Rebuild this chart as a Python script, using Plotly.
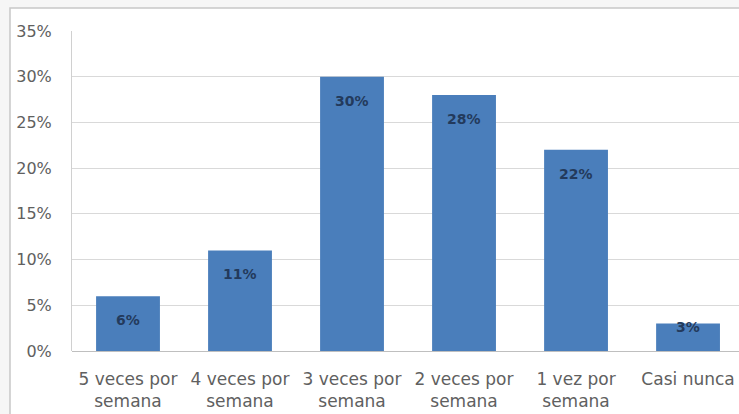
import plotly.graph_objects as go

categories = ["5 veces por<br>semana", "4 veces por<br>semana", "3 veces por<br>semana",
              "2 veces por<br>semana", "1 vez por<br>semana", "Casi nunca"]
values = [0.06, 0.11, 0.30, 0.28, 0.22, 0.03]
labels = ["6%", "11%", "30%", "28%", "22%", "3%"]
yticks = [0, 0.05, 0.10, 0.15, 0.20, 0.25, 0.30, 0.35]
yticklabels = ["0%", "5%", "10%", "15%", "20%", "25%", "30%", "35%"]

W, H = 739, 414
ml, mr, mt, mb = 72, 0, 31, 63
plot_h = H - mt - mb
ymax = 0.35
FONT = "DejaVu Sans"

fig = go.Figure()
fig.add_trace(go.Bar(
    x=list(range(len(categories))), y=values,
    marker=dict(color="#4a7ebb", line=dict(width=0)),
    width=0.57, hoverinfo="skip",
))

annotations = []
for i, (v, t) in enumerate(zip(values, labels)):
    bar_px = v / ymax * plot_h
    shift = -24 if bar_px > 40 else -3
    annotations.append(dict(x=i, y=v, xref="x", yref="y", text="<b>" + t + "</b>", showarrow=False,
                            yshift=shift, font=dict(family=FONT, size=14, color="#233a5c")))

fig.update_layout(
    width=W, height=H,
    margin=dict(l=ml, r=mr, t=mt, b=mb),
    paper_bgcolor="#f6f6f6", plot_bgcolor="white",
    showlegend=False,
    annotations=annotations,
    shapes=[dict(type="rect", xref="paper", yref="paper", layer="below",
                 x0=(10 - ml) / (W - ml), x1=1.05,
                 y0=-0.3, y1=(H - mb - 8) / plot_h,
                 fillcolor="white", line=dict(color="#c8c8c8", width=1.5))],
    xaxis=dict(range=[-0.5, 5.455], tickmode="array",
               tickvals=list(range(len(categories))), ticktext=categories,
               showgrid=False, zeroline=False, showline=False, ticks="",
               ticklabelstandoff=16,
               tickfont=dict(family=FONT, size=17, color="#606060")),
    yaxis=dict(range=[0, ymax], tickmode="array", tickvals=yticks, ticktext=yticklabels,
               showgrid=True, gridcolor="#d9d9d9", gridwidth=1,
               zeroline=True, zerolinecolor="#bfbfbf", zerolinewidth=1,
               showline=True, linecolor="#d0d0d0", linewidth=1,
               ticks="", ticklabelstandoff=16,
               tickfont=dict(family=FONT, size=16, color="#606060")),
    bargap=0.43,
)

fig.write_html("out.html")
